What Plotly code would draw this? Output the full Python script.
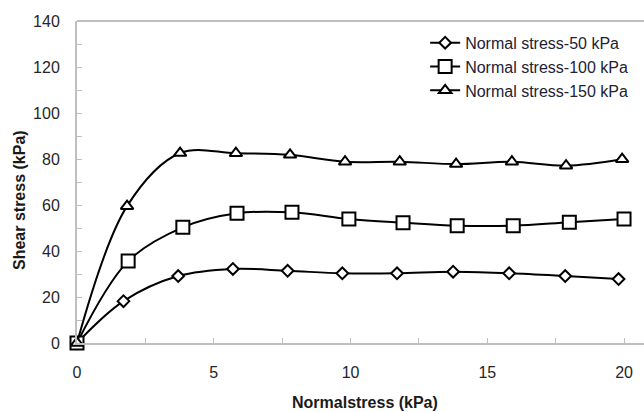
import plotly.graph_objects as go

# Data
x_50 = [0, 1.7, 3.7, 5.7, 7.7, 9.7, 11.7, 13.75, 15.8, 17.85, 19.8]
y_50 = [0, 18.2, 29.1, 32.2, 31.4, 30.3, 30.3, 31.0, 30.3, 29.1, 27.8]

x_100 = [0, 1.87, 3.87, 5.85, 7.86, 9.94, 11.92, 13.9, 15.95, 18.0, 20.0]
y_100 = [0, 35.6, 50.3, 56.4, 56.8, 53.9, 52.3, 51.0, 51.0, 52.5, 53.9]

x_150 = [0, 1.83, 3.77, 5.81, 7.79, 9.8, 11.8, 13.86, 15.9, 17.88, 19.93]
y_150 = [0, 59.5, 82.6, 82.5, 81.8, 78.8, 78.8, 77.8, 78.8, 77.1, 79.9]

series_names = ["Normal stress-50 kPa", "Normal stress-100 kPa", "Normal stress-150 kPa"]
x_ticks = [0, 5, 10, 15, 20]
y_ticks = [0, 20, 40, 60, 80, 100, 120, 140]

FONT = "Liberation Sans"
fig = go.Figure()

styles = [
    ("diamond", 9),
    ("square", 13),
    ("triangle-up", 11),
]
for (xs, ys), name, (sym, sz) in zip(
    [(x_50, y_50), (x_100, y_100), (x_150, y_150)], series_names, styles
):
    fig.add_trace(go.Scatter(
        x=xs, y=ys, name=name, mode="lines+markers", cliponaxis=False,
        line=dict(color="black", width=2, shape="spline", smoothing=1.0),
        marker=dict(symbol=sym, size=sz, color="white",
                    line=dict(color="black", width=2)),
    ))

axis_col = "#bfbfbf"
fig.update_layout(
    width=644, height=412,
    margin=dict(l=77, r=0, t=21, b=69),
    plot_bgcolor="white", paper_bgcolor="white",
    font=dict(family=FONT, size=16, color="#262626"),
    showlegend=True,
    legend=dict(
        x=0.614, y=0.985, xanchor="left", yanchor="top",
        bgcolor="rgba(0,0,0,0)", borderwidth=0,
        font=dict(family=FONT, size=16, color="#222233"),
        itemwidth=30, tracegroupgap=0,
    ),
    xaxis=dict(
        range=[0, 20.73], tickvals=x_ticks, ticktext=[str(v) for v in x_ticks],
        showgrid=False, zeroline=False,
        showline=True, linecolor=axis_col, linewidth=2,
        ticks="inside", ticklen=5, tickcolor=axis_col, tickwidth=1,
        minor=dict(dtick=2.5, tick0=0, ticks="inside", ticklen=5,
                   tickcolor=axis_col, showgrid=False),
        ticklabelstandoff=14,
        tickfont=dict(size=16),
    ),
    yaxis=dict(
        range=[0, 140], tickvals=y_ticks, ticktext=[str(v) for v in y_ticks],
        showgrid=False, zeroline=False,
        showline=True, linecolor=axis_col, linewidth=2,
        ticks="inside", ticklen=5, tickcolor=axis_col, tickwidth=1,
        minor=dict(dtick=10, tick0=0, ticks="inside", ticklen=5,
                   tickcolor=axis_col, showgrid=False),
        ticklabelstandoff=12,
        tickfont=dict(size=16),
    ),
    shapes=[dict(type="line", xref="paper", yref="paper", x0=0, x1=1, y0=1, y1=1,
                 line=dict(color=axis_col, width=2))],
    annotations=[
        dict(text="<b>Normalstress (kPa)</b>", xref="paper", yref="paper",
             x=(365 - 77) / 567, y=-(402 - 343) / 322, xanchor="center", yanchor="middle",
             showarrow=False, font=dict(family=FONT, size=16, color="#1a1a1a")),
        dict(text="<b>Shear stress (kPa)</b>", xref="paper", yref="paper",
             x=-(77 - 19) / 567, y=(343 - 200) / 322, xanchor="center", yanchor="middle",
             textangle=-90, showarrow=False,
             font=dict(family=FONT, size=16, color="#1a1a1a")),
    ],
)

fig.write_html("out.html")
